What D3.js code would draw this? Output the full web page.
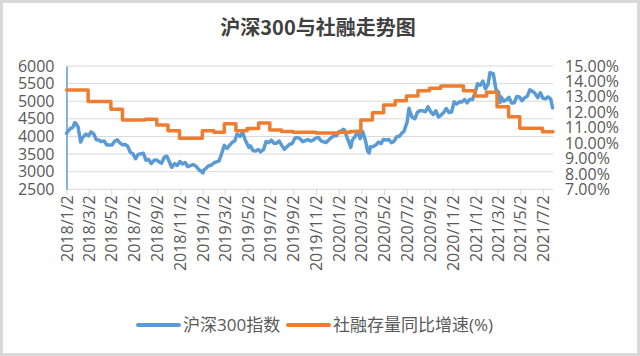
<!DOCTYPE html>
<html><head><meta charset="utf-8">
<script src="https://cdn.jsdelivr.net/npm/d3@7"></script>
<style>
html,body{margin:0;padding:0;background:#fff;}
text{font-family:"Open Sans","Noto Sans CJK SC",sans-serif;}
</style></head>
<body><svg id="c" width="640" height="356"></svg>
<script>
const title = "沪深300与社融走势图";
const seriesNames = ["沪深300指数", "社融存量同比增速(%)"];
const leftTicks = [2500, 3000, 3500, 4000, 4500, 5000, 5500, 6000];
const rightTicks = [7, 8, 9, 10, 11, 12, 13, 14, 15];
const xTickLabels = ["2018/1/2","2018/3/2","2018/5/2","2018/7/2","2018/9/2","2018/11/2",
  "2019/1/2","2019/3/2","2019/5/2","2019/7/2","2019/9/2","2019/11/2",
  "2020/1/2","2020/3/2","2020/5/2","2020/7/2","2020/9/2","2020/11/2",
  "2021/1/2","2021/3/2","2021/5/2","2021/7/2"];
const xDomain = ["2018-01-02", "2021-07-29"];

// 沪深300 (approx. weekly closes)
const csi300 = [
["2018-01-02",4087],["2018-01-05",4138],["2018-01-12",4225],["2018-01-19",4258],["2018-01-24",4389],["2018-01-26",4382],
["2018-02-02",4271],["2018-02-06",4029],["2018-02-09",3840],["2018-02-14",3967],["2018-02-23",4065],["2018-03-02",4018],
["2018-03-09",4128],["2018-03-16",4070],["2018-03-23",3904],["2018-03-30",3899],["2018-04-04",3855],["2018-04-13",3871],
["2018-04-20",3760],["2018-04-27",3757],["2018-05-04",3758],["2018-05-11",3865],["2018-05-18",3903],["2018-05-25",3816],
["2018-06-01",3763],["2018-06-08",3770],["2018-06-15",3721],["2018-06-22",3552],["2018-06-29",3510],["2018-07-06",3366],
["2018-07-13",3492],["2018-07-20",3507],["2018-07-27",3526],["2018-08-03",3325],["2018-08-10",3350],["2018-08-17",3230],
["2018-08-24",3317],["2018-08-31",3335],["2018-09-07",3278],["2018-09-14",3242],["2018-09-21",3410],["2018-09-28",3438],
["2018-10-11",3124],["2018-10-19",3230],["2018-10-26",3176],["2018-11-02",3290],["2018-11-09",3220],["2018-11-16",3260],
["2018-11-23",3143],["2018-11-30",3173],["2018-12-07",3203],["2018-12-14",3165],["2018-12-21",3080],["2018-12-28",3011],
["2019-01-03",2964],["2019-01-04",3036],["2019-01-11",3095],["2019-01-18",3168],["2019-01-25",3184],["2019-02-01",3247],
["2019-02-15",3309],["2019-02-22",3520],["2019-03-01",3749],["2019-03-08",3658],["2019-03-15",3745],["2019-03-22",3833],
["2019-03-29",3872],["2019-04-04",4062],["2019-04-12",4000],["2019-04-19",4120],["2019-04-26",3898],["2019-05-06",3686],
["2019-05-10",3734],["2019-05-17",3597],["2019-05-24",3587],["2019-05-31",3630],["2019-06-06",3564],["2019-06-14",3626],
["2019-06-21",3853],["2019-06-28",3825],["2019-07-05",3893],["2019-07-12",3808],["2019-07-19",3808],["2019-07-26",3867],
["2019-08-02",3747],["2019-08-09",3634],["2019-08-16",3706],["2019-08-23",3779],["2019-08-30",3799],["2019-09-06",3948],
["2019-09-13",3972],["2019-09-20",3935],["2019-09-27",3852],["2019-10-11",3911],["2019-10-18",3869],["2019-10-25",3896],
["2019-11-01",3952],["2019-11-08",3973],["2019-11-15",3877],["2019-11-22",3849],["2019-11-29",3828],["2019-12-06",3902],
["2019-12-13",3969],["2019-12-20",4018],["2019-12-27",4022],["2019-12-31",4097],
["2020-01-03",4144],["2020-01-10",4163],["2020-01-14",4204],["2020-01-17",4186],["2020-01-23",4003],["2020-02-03",3688],
["2020-02-07",3899],["2020-02-14",3987],["2020-02-21",4149],["2020-02-28",3940],["2020-03-06",4138],["2020-03-13",3895],
["2020-03-19",3589],["2020-03-23",3530],["2020-03-27",3710],["2020-04-03",3713],["2020-04-10",3756],["2020-04-17",3840],
["2020-04-24",3797],["2020-04-30",3912],["2020-05-08",3902],["2020-05-15",3913],["2020-05-22",3824],["2020-05-29",3867],
["2020-06-05",3990],["2020-06-12",4002],["2020-06-19",4098],["2020-06-24",4138],["2020-07-03",4404],["2020-07-08",4800],
["2020-07-10",4727],["2020-07-16",4555],["2020-07-24",4505],["2020-07-31",4695],["2020-08-07",4732],["2020-08-14",4727],
["2020-08-21",4701],["2020-08-28",4845],["2020-09-04",4703],["2020-09-11",4624],["2020-09-18",4730],["2020-09-25",4553],
["2020-09-30",4587],["2020-10-09",4681],["2020-10-16",4793],["2020-10-23",4681],["2020-10-30",4695],["2020-11-06",4981],
["2020-11-13",4920],["2020-11-20",4985],["2020-11-27",4980],["2020-12-04",5048],["2020-12-11",4955],["2020-12-18",5054],
["2020-12-25",5042],["2020-12-31",5211],
["2021-01-08",5495],["2021-01-15",5458],["2021-01-22",5571],["2021-01-29",5351],["2021-02-05",5484],["2021-02-10",5807],
["2021-02-19",5779],["2021-02-26",5336],["2021-03-05",5262],["2021-03-09",4970],["2021-03-12",5122],["2021-03-19",5002],
["2021-03-26",5038],["2021-04-02",5113],["2021-04-09",4947],["2021-04-16",4957],["2021-04-23",5135],["2021-04-30",5123],
["2021-05-07",5017],["2021-05-14",5099],["2021-05-21",5136],["2021-05-28",5321],["2021-06-04",5282],["2021-06-11",5224],
["2021-06-18",5102],["2021-06-25",5240],["2021-07-02",5082],["2021-07-09",5069],["2021-07-16",5121],["2021-07-23",5061],
["2021-07-27",4850],["2021-07-28",4812]
];

// 社融存量同比增速 (%) — monthly values, held until the next month
const tsfGrowth = [
["2018-01-02",13.44],["2018-03-01",12.69],["2018-05-01",12.2],["2018-06-01",11.5],["2018-08-01",11.55],["2018-09-01",11.17],
["2018-10-01",10.8],["2018-11-01",10.31],["2019-01-01",10.8],["2019-02-01",10.7],["2019-03-01",11.25],["2019-04-01",10.8],
["2019-05-01",10.95],["2019-06-01",11.3],["2019-07-01",10.85],["2019-08-01",10.75],["2019-09-01",10.7],["2019-10-01",10.7],
["2019-11-01",10.65],["2019-12-01",10.65],["2020-01-01",10.7],["2020-02-01",10.75],["2020-03-01",11.5],["2020-04-01",11.97],
["2020-05-01",12.47],["2020-06-01",12.75],["2020-07-01",13.05],["2020-08-01",13.4],["2020-09-01",13.55],["2020-10-01",13.7],
["2020-11-01",13.7],["2020-12-01",13.4],["2021-01-01",13.05],["2021-02-01",13.3],["2021-03-01",12.36],["2021-04-01",11.71],
["2021-05-01",10.96],["2021-06-01",10.96],["2021-07-01",10.74],["2021-07-29",10.74]
];

const parse = d3.timeParse("%Y-%m-%d");
const parseTick = d3.timeParse("%Y/%m/%d");
const svg = d3.select("#c");
const W = 640, H = 356;
const plot = {left: 66.5, right: 553, top: 66, bottom: 189.3};

svg.append("rect").attr("x",1.5).attr("y",1.5).attr("width",W-3).attr("height",H-3)
  .attr("fill","#fff").attr("stroke","#d9d9d9").attr("stroke-width",3);

const x = d3.scaleTime().domain(xDomain.map(parse)).range([plot.left, plot.right]);
const yL = d3.scaleLinear().domain([2500, 6000]).range([plot.bottom, plot.top]);
const yR = d3.scaleLinear().domain([7, 15]).range([plot.bottom, plot.top]);

// gridlines
svg.append("g").selectAll("line").data(leftTicks.slice(1)).join("line")
  .attr("x1", plot.left).attr("x2", plot.right)
  .attr("y1", d => yL(d)).attr("y2", d => yL(d))
  .attr("stroke", "#d9d9d9").attr("stroke-width", 1);

// bottom axis
const tickDates = xTickLabels.map(parseTick);
const xAxis = d3.axisBottom(x).tickValues(tickDates).tickSize(6).tickFormat((d,i) => xTickLabels[i]);
const gx = svg.append("g").attr("transform", `translate(0,${plot.bottom})`).call(xAxis);
gx.select(".domain").attr("stroke","#d9d9d9").attr("d", `M${plot.left},0H${plot.right}`);
gx.selectAll(".tick line").attr("stroke","#d9d9d9");
gx.selectAll(".tick text")
  .attr("fill","#595959").style("font-size","16px")
  .attr("transform","rotate(-90)").attr("text-anchor","end")
  .attr("x", -6).attr("y", 0).attr("dy","0.35em");

// left axis
const gl = svg.append("g").attr("transform", `translate(${plot.left},0)`)
  .call(d3.axisLeft(yL).tickValues(leftTicks).tickSize(0).tickPadding(12).tickFormat(d3.format("d")));
gl.select(".domain").attr("stroke","#5b9bd5").attr("stroke-width",1.5);
gl.selectAll(".tick text").attr("fill","#595959").style("font-size","16px");

// right axis
const gr = svg.append("g").attr("transform", `translate(${plot.right},0)`)
  .call(d3.axisRight(yR).tickValues(rightTicks).tickSize(0).tickPadding(12).tickFormat(d => d.toFixed(2) + "%"));
gr.select(".domain").remove();
gr.selectAll(".tick text").attr("fill","#595959").style("font-size","16px");

// lines
const blueLine = d3.line().x(d => x(parse(d[0]))).y(d => yL(d[1]));
svg.append("path").datum(csi300).attr("d", blueLine)
  .attr("fill","none").attr("stroke","#5b9bd5").attr("stroke-width",3.5)
  .attr("stroke-linejoin","round").attr("stroke-linecap","round");

const orangeLine = d3.line().curve(d3.curveStepAfter).x(d => x(parse(d[0]))).y(d => yR(d[1]));
svg.append("path").datum(tsfGrowth).attr("d", orangeLine)
  .attr("fill","none").attr("stroke","#ed7d31").attr("stroke-width",3.5)
  .attr("stroke-linejoin","round").attr("stroke-linecap","round");

// title
svg.append("text").attr("x", 318).attr("y", 35).attr("text-anchor","middle")
  .attr("fill","#404040").style("font-size","20px").style("font-weight","bold")
  .style("font-family","'Noto Sans CJK SC',sans-serif").text(title);

// legend
const legendItems = [
  {name: seriesNames[0], color: "#5b9bd5", x: 138},
  {name: seriesNames[1], color: "#ed7d31", x: 288}
];
const lg = svg.append("g");
legendItems.forEach(it => {
  lg.append("line").attr("x1", it.x).attr("x2", it.x + 41).attr("y1", 325).attr("y2", 325)
    .attr("stroke", it.color).attr("stroke-width", 4).attr("stroke-linecap","round");
  lg.append("text").attr("x", it.x + 45).attr("y", 325).attr("dy","0.35em")
    .attr("fill","#595959").style("font-size","17px").text(it.name);
});
</script></body></html>
